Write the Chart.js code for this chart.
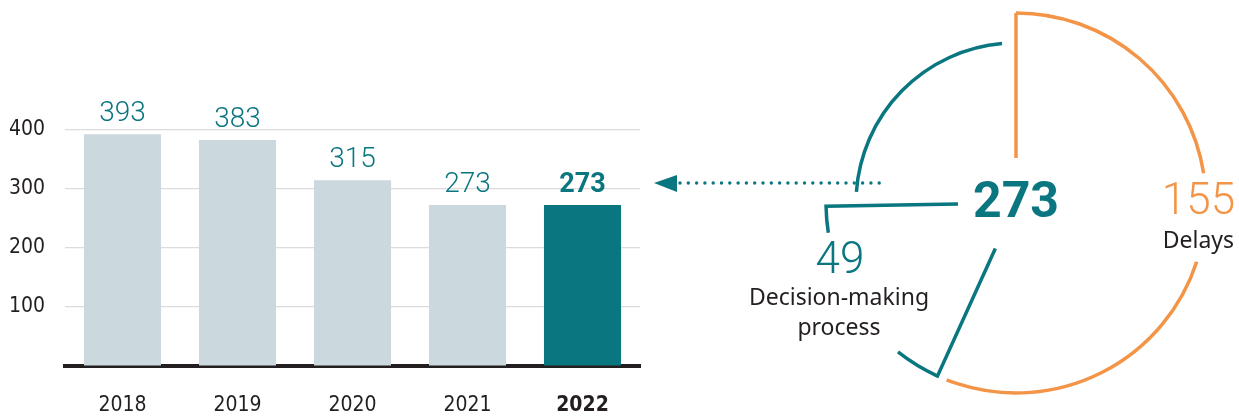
<!DOCTYPE html>
<html>
<head>
<meta charset="utf-8">
<script src="https://cdn.jsdelivr.net/npm/chart.js@4"></script>
<style>
  html, body { margin: 0; padding: 0; background: #ffffff; }
  body { width: 1239px; height: 416px; position: relative; overflow: hidden; }
  #barWrap { position: absolute; left: 0; top: 0; width: 660px; height: 416px; }
  #pieWrap { position: absolute; left: 640px; top: 0; width: 599px; height: 416px; }
</style>
</head>
<body>
<div id="barWrap"><canvas id="barChart"></canvas></div>
<div id="pieWrap"><canvas id="pieChart"></canvas></div>
<script>
// --- data ---
const years = ['2018', '2019', '2020', '2021', '2022'];
const totals = [393, 383, 315, 273, 273];
const yTicks = [100, 200, 300, 400];

const causeLabels = ['Delays', 'Decision-making process', 'Other'];
const causeValues = [155, 49, 69];
const total2022 = 273;

// colours
const TEAL = '#0a7680';
const ORANGE = '#f39447';
const LIGHT = '#cbd9de';
const DARK = '#231f20';
const NARROW = '"Liberation Sans Narrow", "DejaVu Sans Condensed", sans-serif';
const SANS = '"Noto Sans", "Open Sans", sans-serif';

// --- value labels above bars ---
const barLabels = {
    id: 'barLabels',
    afterDatasetsDraw(chart) {
        const ctx = chart.ctx;
        const meta = chart.getDatasetMeta(0);
        ctx.save();
        ctx.textAlign = 'center';
        ctx.textBaseline = 'bottom';
        ctx.fillStyle = TEAL;
        meta.data.forEach((bar, i) => {
            const last = i === totals.length - 1;
            ctx.font = (last ? 'bold 27px ' : '300 28px ') + 'Roboto, sans-serif';
            ctx.fillText(String(totals[i]), bar.x, bar.y - 6);
        });
        ctx.restore();
    }
};

new Chart(document.getElementById('barChart'), {
    type: 'bar',
    data: {
        labels: years,
        datasets: [{
            data: totals,
            backgroundColor: years.map((y, i) => i === years.length - 1 ? TEAL : LIGHT),
            barPercentage: 0.67,
            categoryPercentage: 1
        }]
    },
    options: {
        responsive: true,
        maintainAspectRatio: false,
        animation: false,
        events: [],
        layout: { padding: { left: 0, right: 20, top: 130, bottom: 0 } },
        plugins: { legend: { display: false }, tooltip: { enabled: false } },
        scales: {
            x: {
                afterFit(scale) { scale.height = 50; },
                grid: { display: false, drawTicks: false },
                border: { display: true, color: DARK, width: 4 },
                ticks: {
                    padding: 27,
                    color: DARK,
                    font: (c) => ({ family: NARROW, size: 21, weight: c.index === years.length - 1 ? 'bold' : 'normal' })
                }
            },
            y: {
                min: 0,
                max: 400,
                z: 1,
                afterFit(scale) { scale.width = 65; },
                afterBuildTicks(scale) { scale.ticks = [0].concat(yTicks).map(v => ({ value: v })); },
                grid: {
                    drawTicks: false,
                    color: (c) => c.tick && c.tick.value === 0 ? 'rgba(0,0,0,0)' : 'rgba(0,0,0,0.14)',
                    lineWidth: 1.2
                },
                border: { display: false },
                ticks: {
                    padding: 20,
                    color: DARK,
                    font: { family: NARROW, size: 21 },
                    callback: (v) => v === 0 ? '' : v
                }
            }
        }
    },
    plugins: [barLabels]
});

// --- stylised pie outline ---
const deg = (d) => d * Math.PI / 180;

function strokeArc(ctx, x, y, r, a0, a1, color) {
    ctx.beginPath();
    ctx.strokeStyle = color;
    ctx.arc(x, y, r, a0, a1);
    ctx.stroke();
}
function strokeRadial(ctx, x, y, r0, r1, a, color) {
    ctx.beginPath();
    ctx.strokeStyle = color;
    ctx.moveTo(x + r0 * Math.cos(a), y + r0 * Math.sin(a));
    ctx.lineTo(x + r1 * Math.cos(a), y + r1 * Math.sin(a));
    ctx.stroke();
}

const pieOutline = {
    id: 'pieOutline',
    afterDatasetsDraw(chart) {
        const ctx = chart.ctx;
        const arcs = chart.getDatasetMeta(0).data;
        const a = arcs[0], b = arcs[1], c = arcs[2];
        const cx = a.x, cy = a.y, R = a.outerRadius;
        ctx.save();
        ctx.lineWidth = 3.5;
        ctx.lineCap = 'butt';
        ctx.lineJoin = 'miter';

        // Delays (orange)
        strokeRadial(ctx, cx, cy, 45, R, a.startAngle, ORANGE);
        strokeArc(ctx, cx, cy, R, a.startAngle, a.startAngle + deg(81), ORANGE);
        strokeArc(ctx, cx, cy, R, a.startAngle + deg(108), a.endAngle - deg(3), ORANGE);

        // Decision-making (teal bracket)
        ctx.beginPath();
        ctx.strokeStyle = TEAL;
        ctx.moveTo(cx + 50 * Math.cos(b.startAngle), cy + 50 * Math.sin(b.startAngle));
        ctx.lineTo(cx + R * Math.cos(b.startAngle), cy + R * Math.sin(b.startAngle));
        ctx.arc(cx, cy, R, b.startAngle, b.startAngle + deg(14));
        ctx.stroke();
        ctx.beginPath();
        ctx.arc(cx, cy, R, b.endAngle - deg(8), b.endAngle);
        ctx.lineTo(cx + 58 * Math.cos(b.endAngle), cy + 58 * Math.sin(b.endAngle));
        ctx.stroke();

        // Other (inner teal arc)
        strokeArc(ctx, cx, cy, R - 30, c.startAngle + deg(5), c.endAngle - deg(5), TEAL);

        // centre total
        ctx.textAlign = 'center';
        ctx.textBaseline = 'middle';
        ctx.fillStyle = TEAL;
        ctx.font = 'bold 50px Roboto, sans-serif';
        ctx.fillText(String(total2022), cx, cy + 1);

        // Delays label
        const mA = a.startAngle + deg(94.5);
        const lx = cx + (R - 8) * Math.cos(mA);
        ctx.fillStyle = ORANGE;
        ctx.font = '300 44px Roboto, sans-serif';
        ctx.fillText(String(causeValues[0]), lx + 1, 203);
        ctx.fillStyle = DARK;
        ctx.font = '23px ' + SANS;
        ctx.fillText(causeLabels[0], lx + 1, 241);

        // Decision-making label
        ctx.fillStyle = TEAL;
        ctx.font = '300 44px Roboto, sans-serif';
        ctx.fillText(String(causeValues[1]), 200, 262);
        ctx.fillStyle = DARK;
        ctx.font = '23px ' + SANS;
        ctx.fillText('Decision-making', 199, 298);
        ctx.fillText('process', 199, 328);

        // dotted arrow towards the 2022 bar
        ctx.fillStyle = TEAL;
        for (let x = 40; x <= 247; x += 8.3) {
            ctx.beginPath();
            ctx.arc(x, 183, 1.7, 0, Math.PI * 2);
            ctx.fill();
        }
        ctx.beginPath();
        ctx.moveTo(14, 183);
        ctx.lineTo(37, 175);
        ctx.lineTo(37, 192);
        ctx.closePath();
        ctx.fill();
        ctx.restore();
    }
};

new Chart(document.getElementById('pieChart'), {
    type: 'pie',
    data: {
        labels: causeLabels,
        datasets: [{
            data: causeValues,
            backgroundColor: 'rgba(0,0,0,0)',
            borderWidth: 0,
            hoverOffset: 0
        }]
    },
    options: {
        responsive: true,
        maintainAspectRatio: false,
        animation: false,
        events: [],
        layout: { padding: { left: 186, right: 33, top: 13, bottom: 23 } },
        plugins: { legend: { display: false }, tooltip: { enabled: false } }
    },
    plugins: [pieOutline]
});
</script>
</body>
</html>
